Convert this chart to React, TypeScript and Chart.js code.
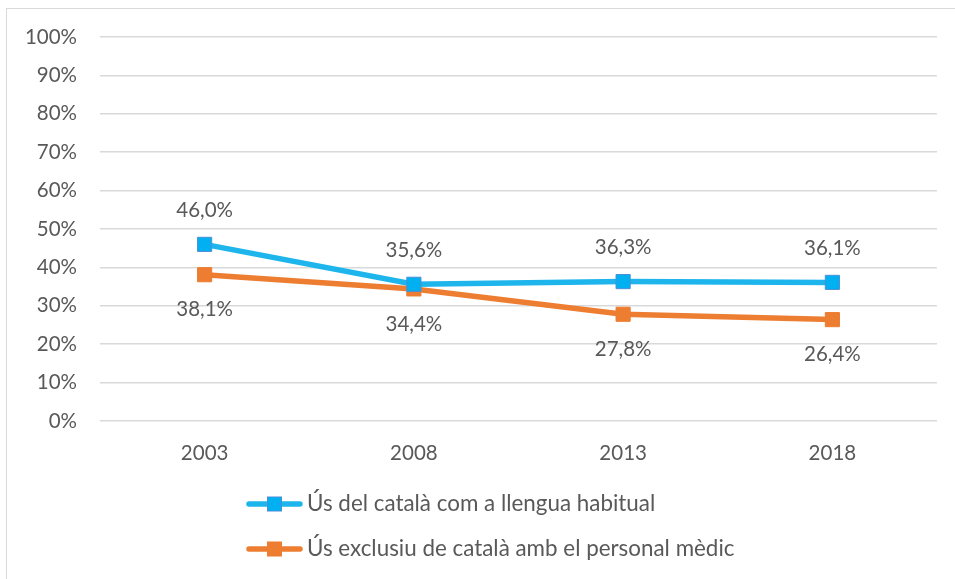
import React, { useEffect, useRef } from "react";
import { Chart, registerables } from "chart.js";

Chart.register(...registerables);

const years = ["2003", "2008", "2013", "2018"];
const habitual = [46.0, 35.6, 36.3, 36.1];
const exclusiu = [38.1, 34.4, 27.8, 26.4];
const seriesNames = [
  "Ús del català com a llengua habitual",
  "Ús exclusiu de català amb el personal mèdic",
];
const yMin = 0;
const yMax = 100;
const yStep = 10;

const FONT = "Lato, 'Open Sans', sans-serif";
const TEXT = "#595959";
const BLUE_LINE = "#1DB5EC";
const BLUE_FILL = "#00B0F0";
const BLUE_BORDER = "#4A8FD8";
const ORANGE = "#ED7D31";

const fmt = (v: number) => v.toFixed(1).replace(".", ",") + "%";

const labelPlugin = {
  id: "valueLabels",
  afterDatasetsDraw(chart: any) {
    const ctx = chart.ctx;
    ctx.save();
    ctx.font = `20.5px ${FONT}`;
    ctx.fillStyle = TEXT;
    ctx.textAlign = "center";
    ctx.textBaseline = "middle";
    chart.data.datasets.forEach((ds: any, i: number) => {
      const meta = chart.getDatasetMeta(i);
      meta.data.forEach((pt: any, j: number) => {
        const v = ds.data[j];
        const y = i === 0 ? pt.y - 34 : pt.y + 35;
        ctx.fillText(fmt(v), pt.x, y);
      });
    });
    ctx.restore();
  },
};

const legendPlugin = {
  id: "customLegend",
  afterDraw(chart: any) {
    const ctx = chart.ctx;
    ctx.save();
    const rows = [
      { y: 504, line: BLUE_LINE, fill: BLUE_FILL, border: BLUE_BORDER, text: seriesNames[0] },
      { y: 549, line: ORANGE, fill: ORANGE, border: ORANGE, text: seriesNames[1] },
    ];
    rows.forEach((r) => {
      ctx.strokeStyle = r.line;
      ctx.lineWidth = 5.5;
      ctx.lineCap = "round";
      ctx.beginPath();
      ctx.moveTo(249, r.y);
      ctx.lineTo(300, r.y);
      ctx.stroke();
      ctx.fillStyle = r.fill;
      ctx.fillRect(267.5, r.y - 7, 14, 14);
      ctx.strokeStyle = r.border;
      ctx.lineWidth = 1;
      ctx.strokeRect(267.5, r.y - 7, 14, 14);
      ctx.fillStyle = TEXT;
      ctx.font = `22.4px ${FONT}`;
      ctx.textAlign = "left";
      ctx.textBaseline = "middle";
      ctx.fillText(r.text, 307, r.y);
    });
    ctx.restore();
  },
};

export default function App() {
  const ref = useRef<HTMLCanvasElement | null>(null);

  useEffect(() => {
    if (!ref.current) return;
    const chart = new Chart(ref.current, {
      type: "line",
      data: {
        labels: years,
        datasets: [
          {
            label: seriesNames[0],
            data: habitual,
            borderColor: BLUE_LINE,
            backgroundColor: BLUE_FILL,
            pointBackgroundColor: BLUE_FILL,
            pointBorderColor: BLUE_BORDER,
            pointBorderWidth: 1,
            borderWidth: 5.5,
            pointStyle: "rect",
            pointRadius: 10,
            tension: 0,
          },
          {
            label: seriesNames[1],
            data: exclusiu,
            borderColor: ORANGE,
            backgroundColor: ORANGE,
            pointBackgroundColor: ORANGE,
            pointBorderColor: ORANGE,
            pointBorderWidth: 1,
            borderWidth: 5.5,
            pointStyle: "rect",
            pointRadius: 10,
            tension: 0,
          },
        ],
      },
      options: {
        responsive: false,
        animation: false,
        layout: { padding: { top: 37, right: 18, left: 0, bottom: 0 } },
        plugins: {
          legend: { display: false },
          tooltip: { enabled: false },
        },
        scales: {
          x: {
            offset: true,
            grid: { display: false, drawTicks: false },
            border: { display: false },
            ticks: {
              color: TEXT,
              font: { family: FONT, size: 20.5 },
              padding: 20,
            },
            afterFit(scale: any) {
              scale.height = 158;
            },
          },
          y: {
            min: yMin,
            max: yMax,
            grid: { color: "#D9D9D9", lineWidth: 1.5, drawTicks: false },
            border: { display: false },
            ticks: {
              stepSize: yStep,
              color: TEXT,
              font: { family: FONT, size: 20.5 },
              padding: 23,
              callback: (v: any) => v + "%",
            },
            afterFit(scale: any) {
              scale.width = 100;
            },
          },
        },
      },
      plugins: [labelPlugin, legendPlugin],
    });
    return () => chart.destroy();
  }, []);

  return (
    <div>
      <div
        style={{
          position: "fixed",
          left: 6,
          top: 8,
          width: 960,
          height: 580,
          border: "1.5px solid #D9D9D9",
          boxSizing: "border-box",
        }}
      />
      <canvas
        ref={ref}
        width={955}
        height={579}
        style={{ position: "fixed", left: 0, top: 0, width: 955, height: 579 }}
      />
    </div>
  );
}
